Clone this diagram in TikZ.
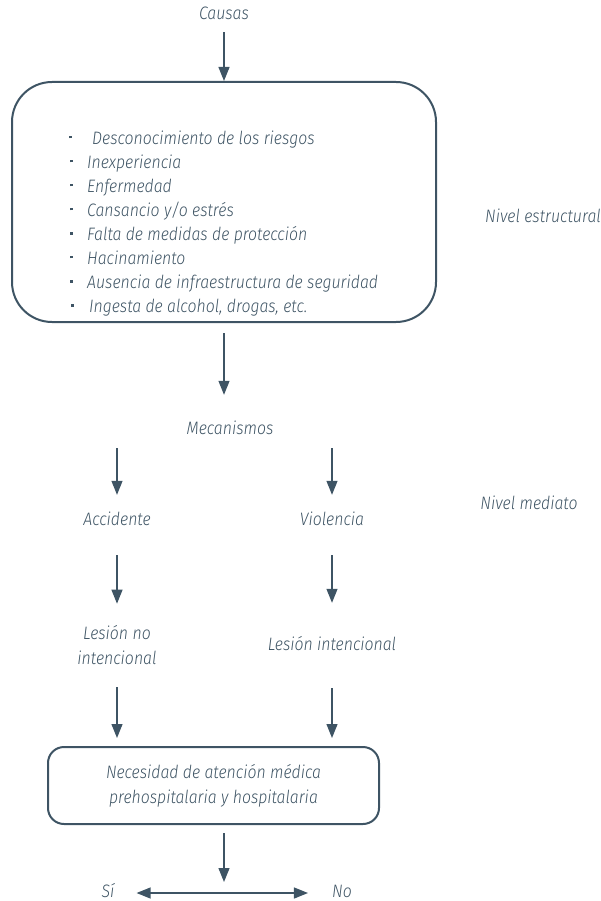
\documentclass[tikz,border=0pt]{standalone}
\usepackage{fontspec}
\setmainfont{Fira Sans Light Italic}[FakeStretch=0.88]
\usetikzlibrary{arrows.meta}
\definecolor{ink}{RGB}{62,84,100}
\newcommand{\dotmark}{\raisebox{6pt}{\rule{2.3pt}{2.3pt}}}
\begin{document}
\begin{tikzpicture}[x=1pt,y=-1pt,
  lbl/.style={inner sep=0pt, text=ink, font=\fontsize{18}{25}\selectfont,
              text height=12.5pt, text depth=3.5pt},
  item/.style={lbl, anchor=west},
  twoline/.style={inner sep=0pt, text=ink, font=\fontsize{18}{25}\selectfont, align=center},
  panel/.style={draw=ink, line width=2pt, inner sep=0pt},
  arr/.style={draw=ink, line width=1.2pt, -{Triangle[length=14pt,width=11pt]}},
  dblarr/.style={draw=ink, line width=1.2pt,
                 {Triangle[length=14pt,width=11pt]}-{Triangle[length=14pt,width=11pt]}}]
\useasboundingbox (0,0) rectangle (601,901);

% top label and causes panel
\node[lbl] (causas) at (224,15) {Causas};
\node[panel, rounded corners=40pt, minimum width=424pt, minimum height=240pt] (causes) at (224,202) {};
\node[item] (item1) at (69,140) {\makebox[23pt][l]{\dotmark}Desconocimiento de los riesgos};
\foreach \t [count=\i from 2] in {Inexperiencia, Enfermedad,
    Cansancio y/o estrés, Falta de medidas de protección, Hacinamiento,
    Ausencia de infraestructura de seguridad}
  \node[item] (item\i) at (70,116+24*\i) {\makebox[17pt][l]{\dotmark}\t};
\node[item] (item8) at (71,308) {\makebox[18pt][l]{\dotmark}Ingesta de alcohol, drogas, etc.};

% level labels
\node[lbl] (nivelest) at (543,218) {Nivel estructural};
\node[lbl] (nivelmed) at (529,505) {Nivel mediato};

% mechanisms
\node[lbl] (mec) at (230,430) {Mecanismos};
\node[lbl] (acc) at (117,521) {Accidente};
\node[lbl] (vio) at (332,521) {Violencia};
\node[twoline] (les1) at (117,645.5) {Lesión no\\intencional};
\node[lbl] (les2) at (332,646) {Lesión intencional};

% care need
\node[panel, rounded corners=16pt, minimum width=331pt, minimum height=77pt,
      text=ink, font=\fontsize{18}{25}\selectfont, align=center] (need) at (213.5,785.5)
  {Necesidad de atención médica\\prehospitalaria y hospitalaria};
\coordinate (fork) at (224,893);
\node[lbl] (si) at (108,893) {Sí};
\node[lbl] (no) at (342,893) {No};

% connectors
\draw[arr, shorten <=9pt] (causas) -- (causes);
\draw[arr, shorten <=10pt, shorten >=27pt] (causes.south) -- (causes.south |- mec.north);
\draw[arr, shorten <=10pt, shorten >=18pt] (mec.south -| acc) -- (acc);
\draw[arr, shorten <=10pt, shorten >=18pt] (mec.south -| vio) -- (vio);
\draw[arr, shorten <=26pt, shorten >=22pt] (acc) -- (les1);
\draw[arr, shorten <=26pt, shorten >=35pt] (vio) -- (les2);
\draw[arr, shorten <=22pt, shorten >=8pt] (les1.south) -- (les1.south |- need.north);
\draw[arr, shorten <=34pt, shorten >=8pt] (les2.south) -- (les2.south |- need.north);
\draw[arr, shorten <=8pt, shorten >=11pt] (need.south -| fork) -- (fork);
\draw[dblarr, shorten <=22pt, shorten >=24pt] (si) -- (no);
\end{tikzpicture}
\end{document}
